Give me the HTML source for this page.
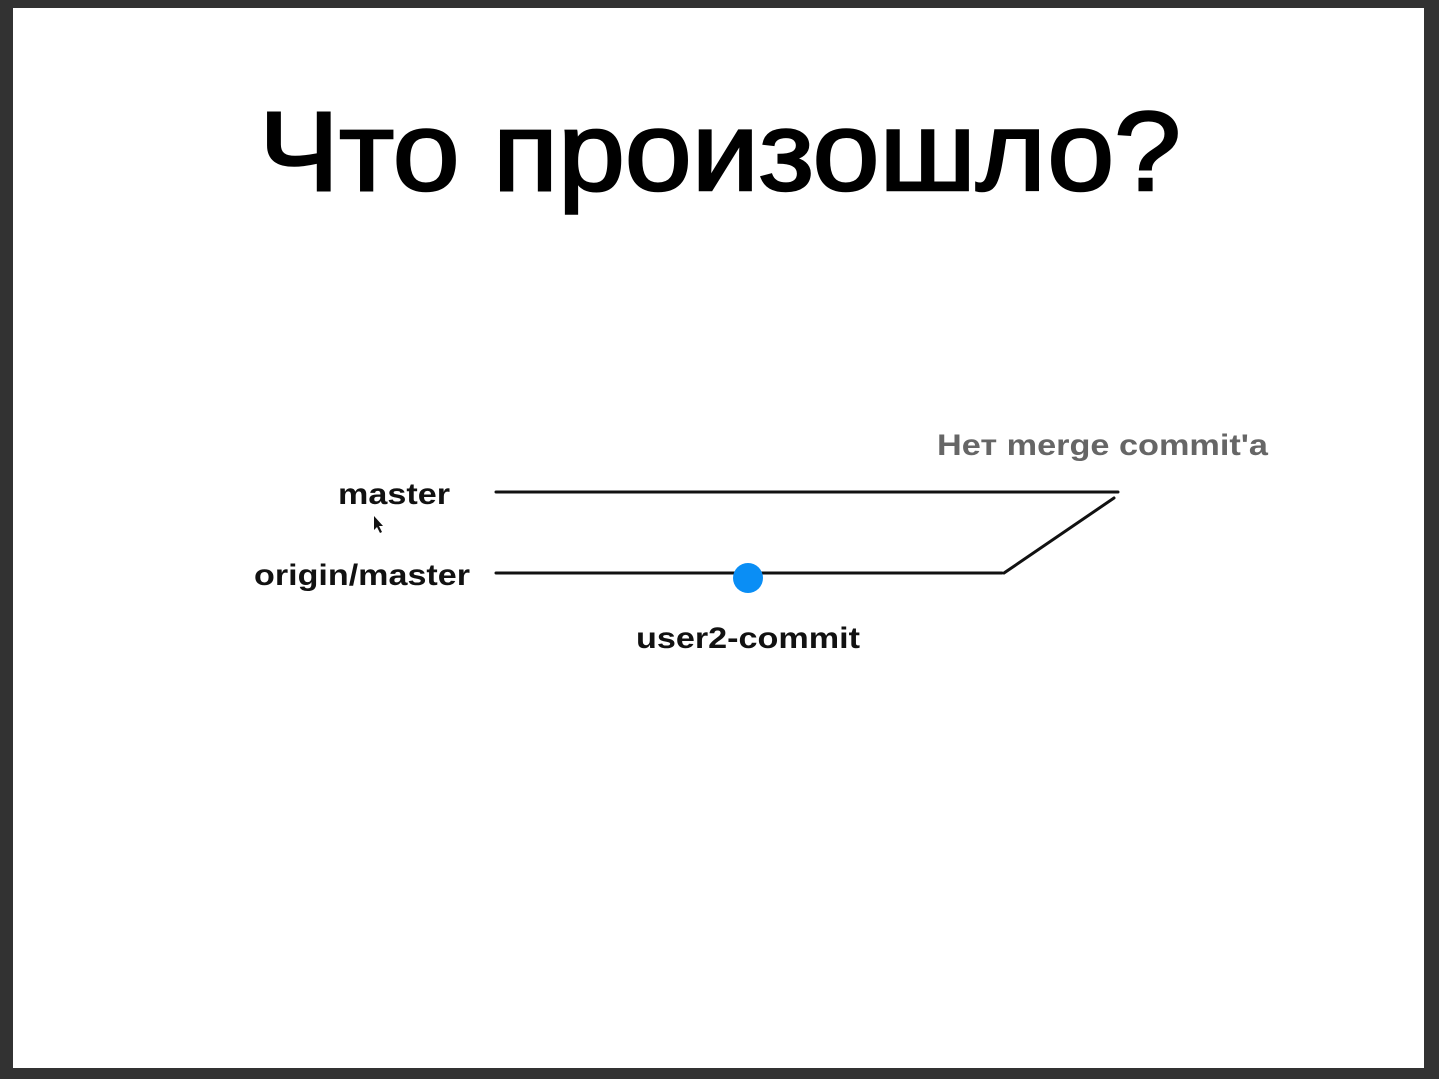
<!DOCTYPE html>
<html><head><meta charset="utf-8"><style>
html,body{margin:0;padding:0;width:1439px;height:1079px;overflow:hidden;background:#333;}
svg{display:block}
</style></head><body>
<svg width="1439" height="1079" viewBox="0 0 1439 1079" xmlns="http://www.w3.org/2000/svg">
<rect x="0" y="0" width="1439" height="1079" fill="#323232"/>
<rect x="13" y="8" width="1411" height="1060" fill="#ffffff"/>
<text x="259" y="190" font-family="Liberation Sans, DejaVu Sans, sans-serif" font-size="112" fill="#000" stroke="#000" stroke-width="2.5" textLength="922" lengthAdjust="spacingAndGlyphs">Что произошло?</text>
<g font-family="Liberation Sans, DejaVu Sans, sans-serif" font-weight="bold" font-size="30" fill="#111">
<text x="338" y="504" textLength="112" lengthAdjust="spacingAndGlyphs">master</text>
<text x="254" y="585" textLength="216" lengthAdjust="spacingAndGlyphs">origin/master</text>
<text x="636" y="648" textLength="224" lengthAdjust="spacingAndGlyphs">user2-commit</text>
<text x="937" y="455" fill="#666" textLength="331" lengthAdjust="spacingAndGlyphs">Нет merge commit'a</text>
</g>
<g stroke="#111" stroke-width="3" fill="none" stroke-linecap="round">
<line x1="496" y1="492" x2="1118" y2="492"/>
<line x1="496" y1="573" x2="1002" y2="573"/>
<line x1="1004" y1="573" x2="1114" y2="498"/>
</g>
<circle cx="748" cy="578" r="15" fill="#0a8ef5"/>
<path d="M374,516 L374,530 L377,527 L380,533 L382,532 L379,526 L383,526 Z" fill="#111"/>
</svg>
</body></html>
